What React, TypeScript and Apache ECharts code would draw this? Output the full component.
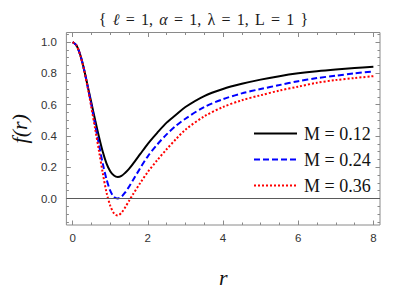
import React, { useEffect, useRef } from "react";
import * as echarts from "echarts";

// ---- data ----
const rValues = [0, 0.1, 0.2, 0.3, 0.4, 0.5, 0.6, 0.7, 0.8, 0.9, 1.0, 1.1, 1.2, 1.3, 1.4, 1.5, 1.6, 1.8, 2.0, 2.25, 2.5, 2.75, 3.0, 3.5, 4.0, 4.5, 5.0, 5.5, 6.0, 6.5, 7.0, 7.5, 8.0];
const fM012 = [1.0, 0.98, 0.92, 0.83, 0.72, 0.61, 0.5, 0.395, 0.3, 0.225, 0.175, 0.147, 0.138, 0.145, 0.165, 0.19, 0.22, 0.285, 0.35, 0.42, 0.485, 0.535, 0.585, 0.655, 0.7, 0.733, 0.76, 0.782, 0.8, 0.814, 0.825, 0.834, 0.842];
const fM024 = [1.0, 0.98, 0.92, 0.828, 0.715, 0.595, 0.47, 0.345, 0.225, 0.125, 0.05, 0.01, 0.0, 0.012, 0.04, 0.075, 0.115, 0.195, 0.27, 0.345, 0.41, 0.465, 0.51, 0.585, 0.635, 0.672, 0.7, 0.725, 0.75, 0.77, 0.785, 0.8, 0.812];
const fM036 = [1.0, 0.98, 0.918, 0.825, 0.71, 0.58, 0.445, 0.305, 0.165, 0.04, -0.045, -0.095, -0.108, -0.09, -0.055, -0.015, 0.025, 0.1, 0.17, 0.245, 0.315, 0.38, 0.44, 0.525, 0.585, 0.628, 0.66, 0.69, 0.715, 0.74, 0.757, 0.77, 0.782];
const seriesNames = ["M = 0.12", "M = 0.24", "M = 0.36"];

const xMajorTicks = [0, 2, 4, 6, 8];
const xTickLabels = ["0", "2", "4", "6", "8"];
const xMinorTicks = [0.5, 1, 1.5, 2.5, 3, 3.5, 4.5, 5, 5.5, 6.5, 7, 7.5];
const yMajorTicks = [0, 0.2, 0.4, 0.6, 0.8, 1.0];
const yTickLabels = ["0.0", "0.2", "0.4", "0.6", "0.8", "1.0"];
const yMinorTicks = [-0.15, -0.1, -0.05, 0.05, 0.1, 0.15, 0.25, 0.3, 0.35, 0.45, 0.5, 0.55, 0.65, 0.7, 0.75, 0.85, 0.9, 0.95, 1.05];

const X_MIN = -0.166;
const X_MAX = 8.176;
const Y_MIN = -0.169;
const Y_MAX = 1.061;

const FRAME = "#8a8a8a";
const SERIF = "'Liberation Serif', 'Times New Roman', serif";
const SANS = "'Liberation Sans', Arial, sans-serif";

function labelFor(values: number[], labels: string[], v: number): string {
  let best = 0;
  for (let i = 1; i < values.length; i++) {
    if (Math.abs(values[i] - v) < Math.abs(values[best] - v)) best = i;
  }
  return labels[best];
}

function makeAxis(kind: "x" | "y", position: string, ticks: number[], len: number, withLabels: boolean, extra: any = {}) {
  return {
    type: "value",
    gridIndex: 0,
    position,
    min: kind === "x" ? X_MIN : Y_MIN,
    max: kind === "x" ? X_MAX : Y_MAX,
    axisLine: { show: false, onZero: false },
    splitLine: { show: false },
    axisTick: {
      show: true,
      inside: true,
      length: len,
      customValues: ticks,
      lineStyle: { color: FRAME, width: 1 },
    },
    axisLabel: withLabels
      ? {
          show: true,
          customValues: ticks,
          margin: kind === "x" ? 7 : 9.5,
          color: "#333333",
          fontFamily: SANS,
          fontSize: 11.5,
          formatter: (v: number) =>
            kind === "x" ? labelFor(xMajorTicks, xTickLabels, v) : labelFor(yMajorTicks, yTickLabels, v),
        }
      : { show: false },
    ...extra,
  };
}

function pairs(ys: number[]) {
  return rValues.map((r, i) => [r, ys[i]]);
}

const S = (t: string, s: string) => `{${s}|${t}}`;
const titleText = [
  S("{", "t"), S(" ", "s"), S("ℓ", "i"), S(" ", "s"), S("=", "t"), S(" ", "s"), S("1,", "t"), S(" ", "s"),
  S("α", "i"), S(" ", "s"), S("=", "t"), S(" ", "s"), S("1,", "t"), S(" ", "s"),
  S("λ", "t"), S(" ", "s"), S("=", "t"), S(" ", "s"), S("1,", "t"), S(" ", "s"),
  S("L", "t"), S(" ", "s"), S("=", "t"), S(" ", "s"), S("1", "t"), S(" ", "s"),
].join("") + "}";

export default function App() {
  const ref = useRef<HTMLDivElement>(null);
  useEffect(() => {
    if (!ref.current) return;
    const chart = echarts.init(ref.current, undefined, { renderer: "svg" });
    const lineBase = { type: "line", xAxisIndex: 0, yAxisIndex: 0, symbol: "none", smooth: 0.3, clip: true };
    chart.setOption({
      animation: false,
      backgroundColor: "#ffffff",
      title: {
        text: titleText,
        left: "center",
        top: 9.5,
        padding: [0, 0, 0, 18],
        textStyle: {
          fontFamily: SERIF,
          fontSize: 16,
          fontWeight: "normal",
          color: "#1a1a1a",
          lineHeight: 19,
          rich: {
            t: { fontFamily: SERIF, fontSize: 16, color: "#1a1a1a", lineHeight: 19 },
            i: { fontFamily: SERIF, fontSize: 16, fontStyle: "italic", color: "#1a1a1a", lineHeight: 19 },
            s: { fontFamily: SERIF, fontSize: 25, color: "#1a1a1a", lineHeight: 19 },
          },
        },
      },
      grid: {
        left: 63,
        right: 27,
        top: 32.5,
        bottom: 64,
        containLabel: false,
        show: true,
        borderColor: FRAME,
        borderWidth: 1,
        backgroundColor: "transparent",
      },
      legend: {
        orient: "vertical",
        left: 248,
        top: 119.5,
        itemWidth: 43,
        itemHeight: 14,
        itemGap: 8,
        data: seriesNames,
        itemStyle: { opacity: 0 },
        textStyle: { fontFamily: SERIF, fontSize: 18, color: "#111", lineHeight: 18, padding: [0, 0, 0, 2] },
      },
      xAxis: [
        makeAxis("x", "bottom", xMajorTicks, 4.5, true, {
          name: "r",
          nameLocation: "middle",
          nameGap: 41,
          nameTextStyle: { fontFamily: SERIF, fontStyle: "italic", fontSize: 22, color: "#111", lineHeight: 22 },
        }),
        makeAxis("x", "bottom", xMinorTicks, 2.5, false),
        makeAxis("x", "top", xMajorTicks, 4.5, false),
        makeAxis("x", "top", xMinorTicks, 2.5, false),
      ],
      yAxis: [
        makeAxis("y", "left", yMajorTicks, 4.5, true, {
          name: "f(r)",
          nameLocation: "middle",
          nameGap: 30,
          nameRotate: 90,
          nameTextStyle: { fontFamily: SERIF, fontStyle: "italic", fontSize: 22, color: "#111", lineHeight: 22 },
        }),
        makeAxis("y", "left", yMinorTicks, 2.5, false),
        makeAxis("y", "right", yMajorTicks, 4.5, false),
        makeAxis("y", "right", yMinorTicks, 2.5, false),
      ],
      series: [
        {
          ...lineBase,
          name: "axis",
          data: [],
          markLine: {
            silent: true,
            symbol: ["none", "none"],
            label: { show: false },
            lineStyle: { color: "#5a5a5a", width: 1, type: "solid" },
            data: [{ yAxis: 0 }],
          },
        },
        { ...lineBase, name: seriesNames[0], data: pairs(fM012), lineStyle: { color: "#000000", width: 2, type: "solid" }, itemStyle: { color: "#000000" } },
        { ...lineBase, name: seriesNames[1], data: pairs(fM024), lineStyle: { color: "#0000ff", width: 2, type: [6, 3] }, itemStyle: { color: "#0000ff" } },
        { ...lineBase, name: seriesNames[2], data: pairs(fM036), lineStyle: { color: "#ff0000", width: 2, type: [2, 2] }, itemStyle: { color: "#ff0000" } },
      ],
    });
    return () => chart.dispose();
  }, []);
  return <div ref={ref} style={{ position: "fixed", left: 0, top: 0, width: 407, height: 293, background: "#fff" }} />;
}
